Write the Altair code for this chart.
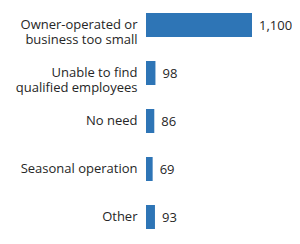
import altair as alt
import pandas as pd

categories = [
    "Owner-operated or|business too small",
    "Unable to find|qualified employees",
    "No need",
    "Seasonal operation",
    "Other",
]
values = [1100, 98, 86, 69, 93]
value_labels = ["1,100", "98", "86", "69", "93"]

df = pd.DataFrame({"cat": categories, "val": values, "lab": value_labels})

y = alt.Y(
    "cat:N",
    sort=categories,
    title=None,
    scale=alt.Scale(paddingInner=0.5, paddingOuter=0.104, range=[0, 226]),
    axis=alt.Axis(
        labelExpr="split(datum.label, '|')",
        labelFont="Open Sans",
        labelFontSize=13,
        labelColor="#262626",
        labelLineHeight=15,
        labelPadding=9,
        ticks=False,
        domain=False,
        labelLimit=200,
    ),
)
x = alt.X("val:Q", scale=alt.Scale(domain=[0, 1100], nice=False), axis=None)

bars = alt.Chart(df).mark_bar(color="#2E75B6").encode(x=x, y=y)
texts = alt.Chart(df).mark_text(
    align="left", baseline="middle", dx=7, dy=1, font="Open Sans", fontSize=13, color="#262626"
).encode(x=x, y=y, text="lab:N")

chart = (
    alt.layer(bars, texts)
    .properties(
        width=106,
        height=222,
        autosize=alt.AutoSizeParams(type="none"),
        padding={"left": 138, "top": 0, "right": 40, "bottom": 0},
    )
    .configure_view(stroke=None)
)
chart.save("out.html", embed_options={"renderer": "svg", "actions": False})
